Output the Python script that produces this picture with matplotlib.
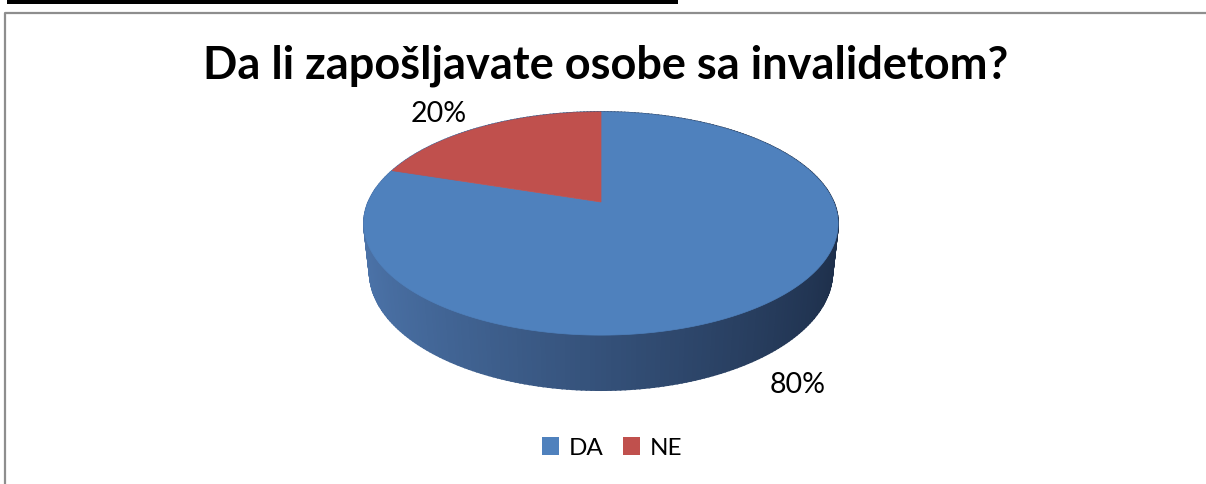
import numpy as np
import matplotlib
matplotlib.use("Agg")
import matplotlib.pyplot as plt
from matplotlib.patches import Polygon, Rectangle, Patch

# data
TITLE = "Da li zapošljavate osobe sa invalidetom?"
categories = ["DA", "NE"]
shares = [80, 20]
labels = ["80%", "20%"]
colors = ["#4F81BD", "#C0504D"]

plt.rcParams["font.family"] = ["Lato", "DejaVu Sans"]

W, H = 1206, 484
fig = plt.figure(figsize=(W / 100, H / 100), dpi=100)
ax = fig.add_axes([0, 0, 1, 1])
ax.set_xlim(0, W)
ax.set_ylim(H, 0)
ax.axis("off")

# frame (open to the right and bottom) and the black bar above it
ax.plot([4.5, 4.5, W + 10], [H + 10, 13, 13], color="#8e8e8e", lw=1.6,
        solid_capstyle="butt")
ax.add_patch(Rectangle((7, 0), 671, 3.5, facecolor="black", edgecolor="none"))

# simple perspective camera for the tilted 3D pie
CX, CY = 601, 202
PHI = np.radians(27.5)
DIST = 4.595
FOC = 1069
DEPTH = 0.237


def project(theta, y=0.0, r=1.0):
    X = r * np.cos(theta)
    Z = r * np.sin(theta)
    c, s = np.cos(PHI), np.sin(PHI)
    d = DIST + Z * c - y * s
    u = y * c + Z * s
    return CX + FOC * X / d, CY - FOC * u / d


def side_colour(theta):
    light = np.array([76, 116, 170]) / 255
    dark = np.array([29, 46, 73]) / 255
    t = np.clip((1 + np.cos(theta)) / 2, 0, 1)
    return light + (dark - light) * t


# wedges go clockwise from 12 o'clock, like Excel
total = float(sum(shares))
bounds = []
start = np.pi / 2
for v in shares:
    end = start - 2 * np.pi * v / total
    bounds.append((start, end))
    start = end

# side walls, painted back to front
strips = []
for (a0, a1) in bounds:
    n = max(int(abs(a1 - a0) / np.radians(1.0)), 2)
    th = np.linspace(a0, a1, n + 1)
    for i in range(n):
        t0, t1 = th[i], th[i + 1]
        mid = (t0 + t1) / 2
        pts = [project(t0), project(t1), project(t1, -DEPTH), project(t0, -DEPTH)]
        strips.append((np.sin(mid), pts, side_colour(mid)))
strips.sort(key=lambda s: -s[0])
for _, pts, col in strips:
    ax.add_patch(Polygon(pts, closed=True, facecolor=col, edgecolor=col, lw=1.2))

# top faces
for (a0, a1), col in zip(bounds, colors):
    th = np.linspace(a0, a1, 300)
    xs, ys = project(th)
    pts = [(CX, CY)] + list(zip(xs, ys))
    ax.add_patch(Polygon(pts, closed=True, facecolor=col, edgecolor=col, lw=0.5))

# data labels
for (a0, a1), lab in zip(bounds, labels):
    mid = (a0 + a1) / 2
    if np.sin(mid) < 0:
        lx, ly = project(mid, -DEPTH, 1.2)
        ha = "center"
    else:
        lx, ly = project(mid, 0.0, 1.2)
        ha = "right"
        lx += 4
    ax.text(lx, ly, lab, fontsize=20.5, ha=ha, va="center", color="black")

ax.text(606, 66, TITLE, fontsize=32.5, fontweight="bold", ha="center", va="center")

handles = [Patch(facecolor=c, edgecolor="none") for c in colors]
fig.legend(handles, categories, loc="center", bbox_to_anchor=(612 / W, 1 - 448 / H),
           ncol=2, frameon=False, fontsize=17.5, handlelength=0.7, handleheight=0.7,
           handletextpad=0.4, columnspacing=0.8)

fig.savefig("out.png", dpi=100)
